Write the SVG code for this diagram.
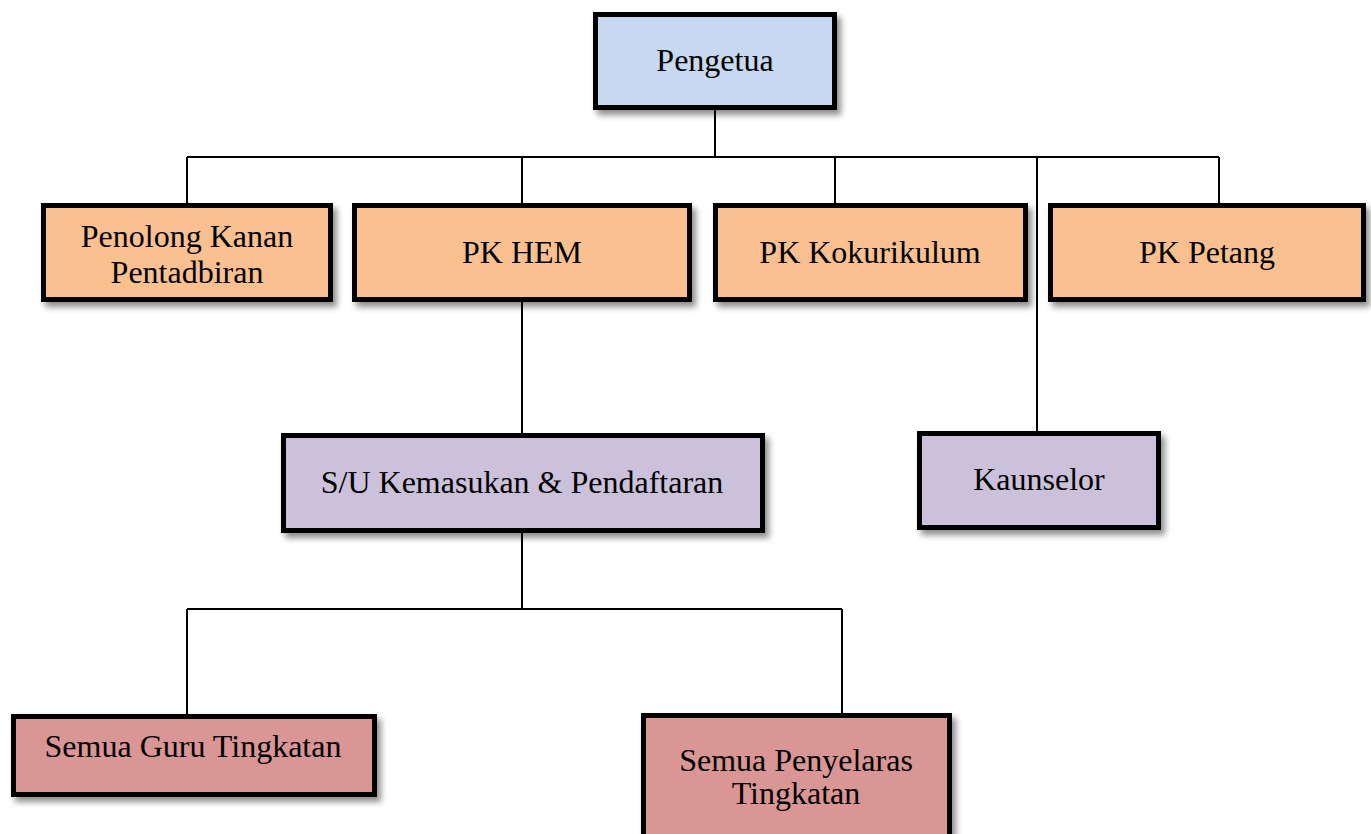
<svg xmlns="http://www.w3.org/2000/svg" width="1371" height="834" viewBox="0 0 1371 834">
<style>
.box{stroke:#000;stroke-width:5;filter:url(#sh)}
.blue{fill:#c6d9f0}.org{fill:#fac090}.pur{fill:#ccc1da}.red{fill:#d99694}
text{font-family:"Liberation Serif","Times New Roman",serif;font-size:32px;fill:#000;text-anchor:middle}
.ln{stroke:#000;stroke-width:2;fill:none}
</style>
<defs>
<filter id="sh" x="-10%" y="-10%" width="125%" height="140%">
<feGaussianBlur in="SourceAlpha" stdDeviation="3"/>
<feOffset dx="4" dy="5" result="o"/>
<feComponentTransfer><feFuncA type="linear" slope="0.45"/></feComponentTransfer>
<feMerge><feMergeNode/><feMergeNode in="SourceGraphic"/></feMerge>
</filter>
</defs>
<rect width="1371" height="834" fill="#fff"/>
<g id="connectors" class="ln">
<path d="M715 108V157M187 157H1219M187 157V203M522 157V203M835 157V203M1219 157V203M1037 157V431"/>
<path d="M522 302V433M522 533V609M187 609H842M187 609V714M842 609V713"/>
</g>
<g id="pengetua"><rect class="box blue" x="595.5" y="14.5" width="239" height="93"/><text x="715" y="71">Pengetua</text></g>
<g id="penolong"><rect class="box org" x="43.5" y="205.5" width="287" height="94"/><text x="187" y="247">Penolong Kanan</text><text x="187" y="283">Pentadbiran</text></g>
<g id="pkhem"><rect class="box org" x="354.5" y="205.5" width="335" height="94"/><text x="522" y="263">PK HEM</text></g>
<g id="pkkoku"><rect class="box org" x="715.5" y="205.5" width="310" height="94"/><text x="870" y="263">PK Kokurikulum</text></g>
<g id="pkpetang"><rect class="box org" x="1050.5" y="205.5" width="313" height="94"/><text x="1207" y="263">PK Petang</text></g>
<g id="su"><rect class="box pur" x="283.5" y="435.5" width="479" height="95"/><text x="522" y="493">S/U Kemasukan &amp; Pendaftaran</text></g>
<g id="kaunselor"><rect class="box pur" x="919.5" y="433.5" width="239" height="94"/><text x="1039" y="490">Kaunselor</text></g>
<g id="guru"><rect class="box red" x="13.5" y="716.5" width="361" height="78"/><text x="193" y="757">Semua Guru Tingkatan</text></g>
<g id="penyelaras"><rect class="box red" x="643.5" y="715.5" width="306" height="130"/><text x="796" y="771">Semua Penyelaras</text><text x="796" y="804">Tingkatan</text></g>
</svg>
